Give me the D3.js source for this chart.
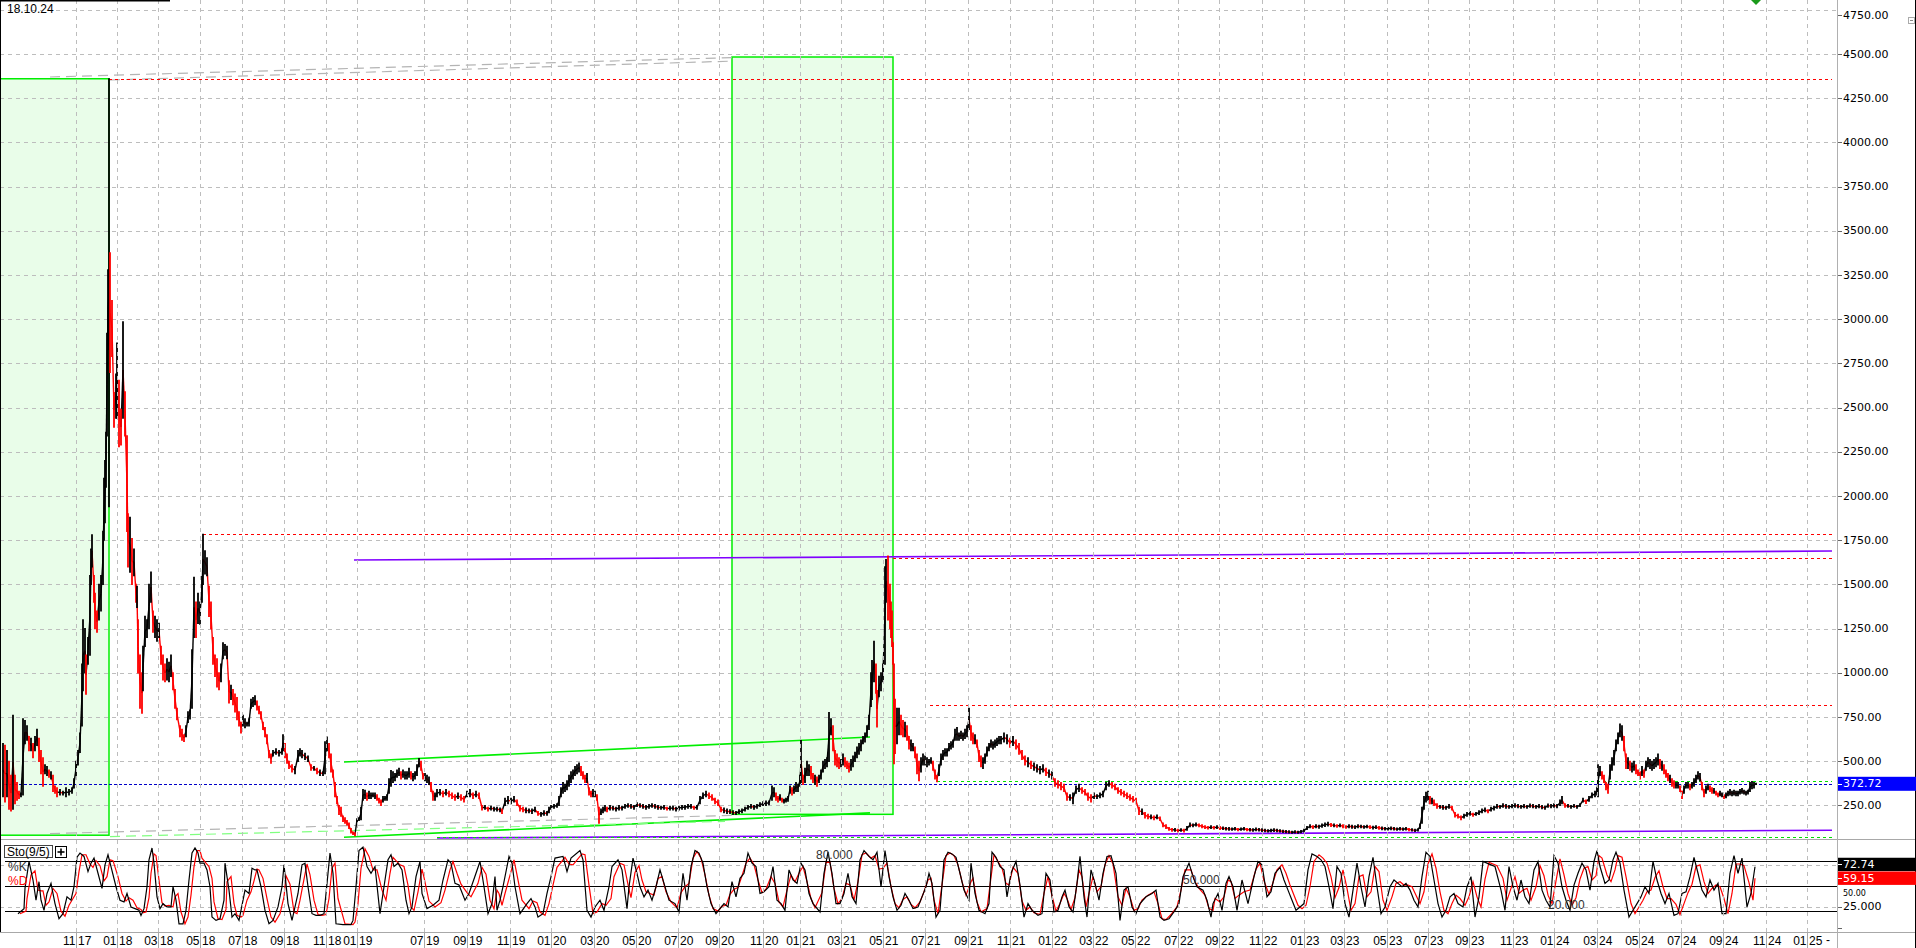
<!DOCTYPE html>
<html><head><meta charset="utf-8">
<script src="https://cdn.jsdelivr.net/npm/d3@7/dist/d3.min.js"></script>
<style>html,body{margin:0;padding:0;background:#fff;overflow:hidden}</style>
</head><body>
<svg id="c" width="1916" height="948"></svg>
<script>
// ---------------- DATA ----------------
const chartDate = "18.10.24";
const priceTicks = [250,500,750,1000,1250,1500,1750,2000,2250,2500,2750,3000,3250,3500,3750,4000,4250,4500,4750];
// month label, year label, bar index of first bar in that month
const monthTicks = [["11","17",76],["01","18",117],["03","18",158],["05","18",200],["07","18",242],["09","18",284],["11","18",326],["01","19",357],["07","19",424],["09","19",467],["11","19",510],["01","20",551],["03","20",594],["05","20",636],["07","20",678],["09","20",719],["11","20",763],["01","21",800],["03","21",841],["05","21",883],["07","21",925],["09","21",968],["11","21",1010],["01","22",1052],["03","22",1093],["05","22",1135],["07","22",1178],["09","22",1219],["11","22",1262],["01","23",1304],["03","23",1344],["05","23",1387],["07","23",1428],["09","23",1469],["11","23",1513],["01","24",1554],["03","24",1597],["05","24",1639],["07","24",1681],["09","24",1723],["11","24",1766],["01","25",1807]];
const lastBar = 1838;
// price bars: [bar index, high, low]
const priceBars = [[3,600,300],[5,590,270],[7,560,300],[9,500,230],[11,420,220],[13,760,230],[15,420,260],[17,380,280],[19,330,290],[21,320,300],[23,740,310],[25,730,600],[27,700,620],[29,640,560],[31,630,560],[33,600,520],[35,640,560],[37,680,590],[39,630,500],[41,560,430],[43,520,360],[45,480,430],[47,470,420],[49,450,410],[51,440,400],[53,420,330],[55,360,320],[57,350,300],[60,340,310],[63,330,310],[66,350,300],[69,340,310],[72,350,320],[74,400,350],[76,500,420],[78,560,480],[80,660,550],[82,1050,700],[83,1300,900],[85,1250,1000],[86,1100,880],[88,1200,1050],[90,1550,1100],[91,1700,1500],[92,1780,1600],[94,1550,1400],[95,1450,1250],[97,1350,1230],[99,1500,1300],[101,1550,1350],[103,1800,1500],[104,2100,1750],[105,2200,1850],[106,2360,2050],[107,2920,2340],[108,3280,2830],[109,4360,1940],[110,3375,2700],[112,3105,2790],[114,2585,2390],[116,2690,2440],[117,2865,2440],[119,2655,2280],[121,2490,2290],[123,2985,2440],[125,2590,2340],[127,2340,1800],[128,1900,1600],[130,1880,1570],[132,1760,1500],[134,1700,1550],[136,1500,1400],[137,1490,1370],[138,1300,1000],[140,1100,800],[142,1000,772],[143,1150,900],[145,1320,1150],[147,1300,1200],[149,1500,1250],[151,1570,1400],[153,1350,1230],[155,1320,1200],[157,1300,1180],[159,1280,1200],[161,1150,1050],[163,1100,960],[165,1050,950],[167,1080,960],[169,1060,950],[171,1100,980],[173,1000,905],[175,905,800],[177,800,735],[180,700,640],[182,680,620],[184,650,613],[186,700,640],[188,780,720],[190,790,740],[192,1130,800],[194,1540,1200],[196,1400,1200],[198,1450,1280],[200,1400,1275],[202,1545,1400],[203,1784,1500],[205,1690,1560],[207,1650,1550],[209,1490,1320],[211,1400,1250],[213,1200,1050],[215,1100,980],[217,1080,920],[219,1000,905],[221,1050,950],[223,1170,1080],[225,1160,1100],[227,1150,1080],[229,955,830],[231,930,850],[233,905,820],[235,880,780],[237,860,735],[239,780,700],[241,720,660],[243,760,700],[245,740,690],[247,720,700],[249,740,700],[251,850,800],[253,860,810],[255,870,820],[257,840,790],[259,810,770],[261,780,740],[263,720,680],[265,690,640],[267,650,600],[269,560,520],[271,540,490],[273,560,530],[276,570,540],[279,560,530],[282,570,540],[283,650,560],[285,600,520],[287,540,490],[289,500,460],[292,480,440],[295,470,430],[298,560,500],[300,570,530],[302,560,520],[305,545,510],[308,530,500],[311,480,450],[314,470,450],[317,460,430],[320,450,420],[323,440,420],[325,610,430],[327,637,560],[329,600,520],[331,540,440],[333,450,410],[335,380,300],[337,300,260],[339,250,200],[341,240,190],[343,190,160],[345,180,150],[347,165,140],[349,150,120],[351,120,95],[353,100,86],[355,95,80],[357,175,160],[359,180,165],[361,240,170],[363,340,280],[365,335,290],[367,320,280],[369,330,290],[371,320,290],[373,320,300],[375,320,290],[377,310,280],[379,290,265],[381,280,250],[383,300,270],[385,300,280],[387,310,280],[389,400,320],[391,447,360],[393,440,380],[395,430,390],[397,450,410],[399,460,420],[401,440,400],[403,450,410],[405,440,400],[407,440,400],[409,460,410],[411,440,400],[413,430,390],[415,440,400],[417,480,420],[419,515,470],[421,500,450],[423,430,400],[425,430,390],[427,420,380],[429,410,370],[431,380,330],[433,330,280],[435,320,280],[437,340,300],[440,340,310],[443,330,300],[446,340,310],[449,330,300],[452,320,290],[455,310,280],[458,320,290],[461,310,280],[464,300,270],[467,330,300],[470,340,300],[473,320,290],[476,330,300],[479,320,290],[482,250,225],[485,250,230],[488,240,220],[491,245,225],[494,240,220],[497,240,220],[500,235,215],[502,230,205],[505,290,250],[508,300,260],[511,290,260],[514,300,270],[517,280,250],[520,250,220],[523,240,215],[526,235,210],[529,230,210],[532,230,205],[535,240,215],[538,215,195],[541,210,190],[544,220,195],[547,215,195],[549,240,210],[551,250,230],[554,255,235],[557,260,240],[559,300,250],[561,350,300],[563,380,320],[565,370,330],[567,390,340],[569,420,360],[571,440,380],[573,450,400],[575,470,420],[577,480,430],[579,490,440],[581,470,420],[583,440,400],[585,420,380],[587,430,380],[589,350,310],[591,330,300],[593,340,300],[595,330,300],[597,310,280],[599,240,150],[601,230,200],[603,240,210],[605,250,220],[607,240,215],[610,250,225],[613,245,225],[616,240,220],[619,250,225],[622,245,225],[625,255,235],[628,260,240],[631,255,235],[634,250,230],[637,265,245],[640,260,240],[643,255,235],[646,250,230],[649,255,235],[652,260,240],[655,255,235],[658,250,230],[661,245,230],[664,250,230],[667,240,225],[670,245,225],[673,245,225],[676,240,220],[679,245,225],[682,250,230],[685,250,230],[688,255,235],[691,255,235],[694,245,230],[697,250,230],[700,300,260],[703,320,290],[706,330,300],[709,320,290],[712,310,280],[715,290,260],[718,280,250],[721,240,215],[724,235,210],[727,230,205],[730,225,205],[733,220,200],[736,215,200],[739,225,205],[742,230,210],[745,240,220],[748,250,230],[751,255,235],[754,250,230],[757,255,235],[760,265,245],[763,270,250],[766,275,250],[769,275,255],[772,360,280],[774,350,300],[776,320,280],[778,300,270],[780,310,280],[782,290,270],[784,285,265],[786,290,270],[788,300,275],[790,360,320],[792,350,310],[794,360,320],[796,380,330],[798,370,330],[800,420,360],[801,617,380],[803,420,370],[805,460,380],[807,500,420],[809,480,420],[811,470,400],[813,430,380],[815,420,370],[817,410,360],[819,420,380],[821,450,400],[823,500,440],[825,510,460],[827,520,470],[829,776,500],[831,740,650],[833,700,560],[835,560,480],[837,540,470],[839,520,460],[841,510,470],[843,540,480],[845,520,470],[847,500,460],[849,490,440],[851,510,450],[853,530,470],[855,550,500],[857,580,520],[859,600,540],[861,620,560],[863,640,600],[865,660,610],[867,700,640],[869,760,680],[871,1000,810],[872,1070,850],[874,1178,950],[876,1050,885],[877,900,695],[879,980,865],[881,1000,900],[883,1050,950],[885,1600,1050],[886,1640,1400],[888,1660,1300],[890,1500,1250],[891,1400,1200],[892,1350,1150],[893,1170,1050],[894,1050,487],[895,850,545],[897,800,600],[899,800,650],[901,760,650],[903,730,640],[905,720,640],[907,700,620],[909,640,570],[911,620,560],[913,600,560],[915,580,520],[917,540,430],[919,500,390],[921,520,440],[923,540,480],[925,530,480],[927,520,470],[929,510,480],[931,520,490],[933,500,450],[935,450,400],[937,420,385],[939,480,420],[941,540,480],[943,560,510],[945,570,530],[947,570,530],[949,600,560],[951,610,570],[953,620,580],[955,680,620],[957,690,620],[959,660,620],[961,670,630],[963,660,620],[965,680,630],[967,700,640],[969,800,680],[971,700,620],[973,660,600],[975,650,600],[977,620,580],[979,560,500],[981,530,470],[983,520,460],[985,540,490],[987,580,530],[989,600,560],[991,620,580],[993,610,570],[995,620,580],[997,630,590],[999,640,600],[1001,640,600],[1004,660,610],[1007,650,600],[1010,630,580],[1013,640,590],[1016,620,570],[1019,600,540],[1022,560,510],[1025,530,480],[1028,520,470],[1031,500,460],[1034,490,450],[1037,480,440],[1040,470,430],[1043,480,440],[1046,460,420],[1049,450,410],[1052,440,400],[1055,400,360],[1058,390,350],[1061,380,340],[1064,370,330],[1067,320,280],[1070,310,280],[1073,320,260],[1076,360,320],[1079,370,330],[1082,350,320],[1085,340,310],[1088,320,280],[1091,310,270],[1094,320,290],[1097,310,290],[1100,320,295],[1103,330,300],[1106,380,340],[1109,390,360],[1112,380,350],[1115,370,340],[1118,350,320],[1121,340,310],[1124,330,300],[1127,320,290],[1130,310,280],[1133,300,270],[1136,290,260],[1139,240,200],[1142,230,200],[1145,210,180],[1148,200,175],[1151,195,175],[1154,190,170],[1157,195,175],[1160,185,165],[1163,150,130],[1166,140,120],[1169,125,110],[1172,120,105],[1175,120,105],[1178,115,100],[1181,118,105],[1184,115,100],[1187,130,110],[1190,150,130],[1193,145,130],[1196,150,135],[1199,145,130],[1202,140,125],[1205,135,120],[1208,130,118],[1211,135,120],[1214,130,118],[1217,135,120],[1220,130,115],[1223,128,115],[1226,125,112],[1229,125,110],[1232,122,110],[1235,125,112],[1238,120,108],[1241,122,110],[1244,125,112],[1247,120,108],[1250,120,106],[1253,118,105],[1256,122,108],[1259,120,106],[1262,118,104],[1265,115,102],[1268,112,100],[1271,115,102],[1274,118,104],[1277,115,102],[1280,112,100],[1283,110,98],[1286,108,96],[1289,106,95],[1292,104,94],[1295,106,95],[1298,104,94],[1301,108,96],[1304,115,100],[1307,130,115],[1310,140,125],[1313,135,120],[1316,140,125],[1319,138,122],[1322,145,128],[1325,150,132],[1328,155,135],[1331,148,132],[1334,145,130],[1337,140,128],[1340,145,130],[1343,140,125],[1346,135,122],[1349,140,125],[1352,138,122],[1355,135,120],[1358,140,125],[1361,138,124],[1364,135,122],[1367,138,124],[1370,135,120],[1373,132,118],[1376,135,120],[1379,130,116],[1382,128,114],[1385,125,112],[1388,125,112],[1391,128,114],[1394,125,112],[1397,122,110],[1400,125,112],[1403,122,110],[1406,125,112],[1409,120,108],[1412,118,106],[1415,115,104],[1418,118,106],[1420,145,120],[1422,240,150],[1424,300,230],[1426,325,270],[1428,330,280],[1430,300,260],[1432,290,260],[1434,280,250],[1437,260,235],[1440,250,235],[1443,250,230],[1446,245,230],[1449,255,235],[1452,245,225],[1455,210,185],[1458,200,180],[1461,190,170],[1464,200,180],[1467,210,190],[1470,215,195],[1473,205,190],[1476,210,195],[1479,220,200],[1482,230,210],[1485,235,215],[1488,225,210],[1491,240,220],[1494,245,225],[1497,255,235],[1500,250,235],[1503,260,240],[1506,255,235],[1509,250,235],[1512,255,238],[1515,260,240],[1518,255,238],[1521,250,235],[1524,255,238],[1527,250,235],[1530,258,240],[1533,255,238],[1536,250,235],[1539,255,238],[1542,250,232],[1545,245,230],[1548,258,240],[1551,255,238],[1554,260,240],[1557,255,238],[1560,280,250],[1562,300,260],[1565,260,240],[1568,255,240],[1571,250,235],[1574,255,240],[1577,250,235],[1580,260,245],[1583,290,270],[1586,280,262],[1589,300,275],[1592,320,295],[1595,330,300],[1597,350,310],[1598,480,300],[1600,470,420],[1602,440,400],[1604,420,380],[1606,380,340],[1608,370,320],[1610,480,400],[1612,520,450],[1614,560,480],[1616,620,560],[1618,660,600],[1620,710,640],[1622,700,620],[1624,640,560],[1626,540,460],[1628,520,460],[1630,500,450],[1632,490,440],[1634,500,450],[1636,480,430],[1638,450,420],[1640,440,400],[1642,470,420],[1644,450,410],[1646,500,450],[1648,520,470],[1650,510,460],[1652,500,450],[1654,510,460],[1656,520,470],[1658,540,480],[1660,510,460],[1662,500,450],[1664,480,430],[1666,450,410],[1668,430,390],[1670,420,380],[1672,400,360],[1674,390,350],[1676,380,350],[1678,380,350],[1680,360,330],[1682,330,290],[1684,360,320],[1686,380,350],[1688,380,350],[1690,370,340],[1692,380,350],[1694,400,360],[1696,420,380],[1698,440,400],[1700,430,390],[1702,380,340],[1704,340,300],[1706,360,320],[1708,370,340],[1710,360,330],[1712,350,320],[1714,345,320],[1716,330,310],[1718,320,300],[1720,330,305],[1722,320,300],[1724,310,290],[1726,320,295],[1728,330,305],[1730,340,310],[1732,330,305],[1734,335,310],[1736,330,305],[1738,330,305],[1740,340,315],[1742,345,320],[1744,335,315],[1746,330,310],[1748,335,315],[1750,380,330],[1752,385,345],[1754,380,350],[1756,375,370]];
const lastClose = 372.72;
// Stochastic (9/5): [bar, %K]
const stochK = [[18,17],[24,23],[25,47],[29,79],[33,57],[36,33],[39,55],[41,33],[44,21],[47,41],[51,53],[55,29],[59,11],[63,17],[67,37],[71,33],[74,49],[77,84],[80,89],[84,85],[88,67],[91,77],[94,83],[98,65],[102,47],[105,75],[108,87],[111,73],[116,49],[120,33],[124,31],[127,41],[131,25],[135,23],[139,21],[141,15],[144,23],[147,49],[149,81],[152,95],[154,77],[157,37],[160,23],[163,29],[167,25],[171,25],[173,49],[176,33],[179,5],[183,5],[186,21],[189,57],[192,89],[195,95],[198,89],[200,77],[204,77],[207,69],[210,49],[212,13],[216,9],[220,11],[224,33],[225,77],[229,45],[232,13],[235,17],[239,9],[241,21],[245,45],[249,41],[252,71],[255,69],[257,69],[261,49],[265,21],[269,5],[273,9],[278,25],[282,49],[284,75],[288,29],[292,9],[295,25],[298,41],[302,75],[305,77],[308,49],[312,17],[316,15],[320,15],[324,17],[327,53],[330,89],[333,65],[336,5],[343,4],[351,4],[353,9],[356,49],[359,92],[363,96],[367,73],[371,65],[375,73],[380,17],[384,49],[388,81],[391,87],[394,73],[398,77],[402,69],[406,33],[409,17],[412,25],[416,61],[420,79],[422,41],[427,23],[433,27],[439,33],[443,57],[448,81],[451,77],[455,53],[459,51],[465,33],[469,41],[476,65],[480,79],[484,49],[488,17],[492,29],[495,61],[497,21],[500,33],[503,49],[509,85],[512,77],[515,49],[520,17],[527,29],[531,35],[535,25],[538,13],[543,17],[547,41],[551,61],[555,83],[563,85],[567,67],[571,83],[580,92],[583,81],[587,21],[591,13],[595,25],[600,33],[604,21],[609,49],[612,73],[618,81],[622,69],[627,23],[629,49],[633,83],[637,65],[640,49],[644,37],[648,45],[652,33],[656,49],[660,69],[664,53],[669,33],[675,29],[679,19],[683,65],[687,33],[691,73],[695,92],[699,89],[703,77],[707,49],[711,29],[716,17],[720,23],[724,29],[728,25],[732,55],[736,37],[740,59],[744,65],[748,89],[752,77],[756,73],[760,41],[764,43],[769,49],[773,73],[777,33],[781,29],[785,21],[789,69],[793,57],[797,53],[801,77],[805,69],[809,41],[813,29],[820,19],[824,65],[828,90],[832,65],[836,29],[840,29],[844,41],[848,65],[852,37],[856,29],[860,81],[864,92],[869,85],[873,81],[877,90],[881,49],[885,92],[889,61],[893,37],[897,21],[901,27],[905,41],[909,33],[913,23],[918,25],[922,37],[926,49],[929,65],[932,53],[936,13],[940,21],[944,81],[948,90],[952,88],[956,84],[960,65],[964,45],[969,33],[971,77],[975,41],[979,21],[985,17],[989,29],[992,90],[996,84],[1000,73],[1004,69],[1007,37],[1011,65],[1016,79],[1020,51],[1024,13],[1028,29],[1032,21],[1038,15],[1042,17],[1046,65],[1050,57],[1054,19],[1058,21],[1062,37],[1065,45],[1069,25],[1073,19],[1077,53],[1080,85],[1084,37],[1087,13],[1091,69],[1095,53],[1099,33],[1103,65],[1107,85],[1111,86],[1116,65],[1120,9],[1124,45],[1128,49],[1132,25],[1136,17],[1140,29],[1146,37],[1152,41],[1156,45],[1160,13],[1164,9],[1169,11],[1175,21],[1179,29],[1183,61],[1189,77],[1193,61],[1197,49],[1203,45],[1207,33],[1211,13],[1213,29],[1218,41],[1222,21],[1226,53],[1229,61],[1233,49],[1237,21],[1242,57],[1248,29],[1254,61],[1258,79],[1262,75],[1267,37],[1271,43],[1275,65],[1280,72],[1284,57],[1288,45],[1292,33],[1296,21],[1300,25],[1304,29],[1308,69],[1312,88],[1317,85],[1321,81],[1325,73],[1329,49],[1333,23],[1337,73],[1341,65],[1345,29],[1349,13],[1353,45],[1357,77],[1361,49],[1365,25],[1369,61],[1373,84],[1377,49],[1381,17],[1385,25],[1390,49],[1394,57],[1398,53],[1402,49],[1406,53],[1410,45],[1414,33],[1418,25],[1422,61],[1426,90],[1430,85],[1434,57],[1438,29],[1442,13],[1446,21],[1450,37],[1454,41],[1458,29],[1463,25],[1467,49],[1471,61],[1475,13],[1479,37],[1483,79],[1487,77],[1491,75],[1495,73],[1501,45],[1505,21],[1509,73],[1513,49],[1517,33],[1521,57],[1525,37],[1529,29],[1534,69],[1538,79],[1542,45],[1546,33],[1550,25],[1554,86],[1558,77],[1562,49],[1566,33],[1570,21],[1574,51],[1578,65],[1582,77],[1586,69],[1590,45],[1594,79],[1597,92],[1600,73],[1605,53],[1609,57],[1613,81],[1616,90],[1620,77],[1624,45],[1629,13],[1633,21],[1637,29],[1641,37],[1645,49],[1649,41],[1653,79],[1657,57],[1661,41],[1665,29],[1669,41],[1674,15],[1678,17],[1682,41],[1686,43],[1690,61],[1694,84],[1698,65],[1702,45],[1706,37],[1710,57],[1714,45],[1718,53],[1722,17],[1726,17],[1730,65],[1734,86],[1738,65],[1742,83],[1747,25],[1751,41],[1755,72.74]];
// Stochastic (9/5): [bar, %D]
const stochD = [[20,17],[26,20],[27,35],[31,63],[35,68],[38,45],[41,44],[43,44],[46,27],[49,31],[53,47],[57,41],[61,20],[65,14],[69,27],[73,35],[76,41],[79,67],[82,87],[86,87],[90,76],[93,72],[96,80],[100,74],[104,56],[107,61],[110,81],[113,80],[118,61],[122,41],[126,32],[129,36],[133,33],[137,24],[141,22],[143,18],[146,19],[149,36],[151,65],[154,88],[156,86],[159,57],[162,30],[165,26],[169,27],[173,25],[175,37],[178,41],[181,19],[185,5],[188,13],[191,39],[194,73],[197,92],[200,92],[202,83],[206,77],[209,73],[212,59],[214,31],[218,11],[222,10],[226,22],[227,55],[231,61],[234,29],[237,15],[241,13],[243,15],[247,33],[251,43],[254,56],[257,70],[259,69],[263,59],[267,35],[271,13],[275,7],[280,17],[284,37],[286,62],[290,52],[294,19],[297,17],[300,33],[304,58],[307,76],[310,63],[314,33],[318,16],[322,15],[326,16],[329,35],[332,71],[335,77],[338,35],[345,5],[353,4],[355,7],[358,29],[361,71],[365,94],[369,85],[373,69],[377,69],[382,45],[386,33],[390,65],[393,84],[396,80],[400,75],[404,73],[408,51],[411,25],[414,21],[418,43],[422,70],[424,60],[429,32],[435,25],[441,30],[445,45],[450,69],[453,79],[457,65],[461,52],[467,42],[471,37],[478,53],[482,72],[486,64],[490,33],[494,23],[497,45],[499,41],[502,27],[505,41],[511,67],[514,81],[517,63],[522,33],[529,23],[533,32],[537,30],[540,19],[545,15],[549,29],[553,51],[557,72],[565,84],[569,76],[573,75],[582,88],[585,87],[589,51],[593,17],[597,19],[602,29],[606,27],[611,35],[614,61],[620,77],[624,75],[629,46],[631,36],[635,66],[639,74],[642,57],[646,43],[650,41],[654,39],[658,59],[662,61],[666,43],[671,31],[677,24],[681,42],[685,49],[689,53],[693,83],[697,91],[701,83],[705,63],[709,39],[713,23],[718,20],[722,26],[726,27],[730,40],[734,46],[738,48],[742,62],[746,77],[750,83],[754,75],[758,57],[762,42],[766,46],[771,61],[775,53],[779,31],[783,25],[787,45],[791,63],[795,55],[799,65],[803,73],[807,55],[811,35],[815,24],[822,42],[826,78],[830,78],[834,47],[838,29],[842,35],[846,53],[850,51],[854,33],[858,55],[862,87],[866,89],[871,83],[875,86],[879,70],[883,71],[887,77],[891,49],[895,29],[899,24],[903,34],[907,37],[911,28],[915,24],[920,31],[924,43],[928,57],[931,59],[934,33],[938,17],[942,51],[946,86],[950,89],[954,86],[958,75],[962,55],[966,39],[971,55],[973,59],[977,31],[981,19],[987,23],[991,60],[994,87],[998,79],[1002,71],[1006,53],[1009,51],[1013,72],[1018,65],[1022,32],[1026,21],[1030,25],[1034,18],[1040,16],[1044,41],[1048,61],[1052,38],[1056,20],[1060,29],[1064,41],[1067,35],[1071,22],[1075,36],[1079,69],[1082,61],[1086,25],[1089,41],[1093,61],[1097,43],[1101,49],[1105,75],[1109,86],[1113,76],[1118,37],[1122,27],[1126,47],[1130,37],[1134,21],[1138,23],[1142,33],[1148,39],[1154,43],[1158,29],[1162,11],[1166,10],[1171,16],[1177,25],[1181,45],[1185,69],[1191,69],[1195,55],[1199,47],[1205,39],[1209,23],[1213,21],[1215,35],[1220,31],[1224,37],[1228,57],[1231,55],[1235,35],[1239,39],[1244,43],[1250,45],[1256,70],[1260,77],[1264,56],[1269,40],[1273,54],[1277,69],[1282,75],[1286,65],[1290,51],[1294,39],[1298,27],[1302,23],[1306,27],[1310,49],[1314,79],[1319,87],[1323,83],[1327,77],[1331,61],[1335,36],[1339,48],[1343,69],[1347,47],[1351,21],[1355,29],[1359,61],[1363,63],[1367,37],[1371,43],[1375,73],[1379,67],[1383,33],[1387,21],[1392,37],[1396,53],[1400,55],[1404,51],[1408,51],[1412,49],[1416,39],[1420,29],[1424,43],[1428,76],[1432,88],[1436,71],[1440,43],[1444,21],[1448,17],[1452,29],[1456,39],[1460,35],[1465,27],[1469,37],[1473,55],[1477,37],[1481,25],[1485,58],[1489,78],[1493,76],[1497,74],[1503,59],[1507,33],[1511,47],[1515,61],[1519,41],[1523,45],[1527,47],[1531,33],[1536,49],[1540,74],[1544,62],[1548,39],[1552,29],[1556,56],[1560,82],[1564,63],[1568,41],[1572,27],[1576,36],[1580,58],[1584,71],[1588,73],[1592,57],[1596,62],[1599,86],[1602,83],[1607,63],[1611,55],[1615,69],[1618,86],[1622,84],[1626,61],[1631,29],[1635,17],[1639,25],[1643,33],[1647,43],[1651,45],[1655,60],[1659,68],[1663,49],[1667,35],[1671,35],[1676,28],[1680,16],[1684,29],[1688,42],[1692,52],[1696,73],[1700,75],[1704,55],[1708,41],[1712,47],[1716,51],[1720,49],[1724,35],[1728,17],[1732,41],[1736,76],[1740,76],[1744,74],[1749,54],[1753,33],[1755,59.15]];
const lastK = 72.74, lastD = 59.15;
const stochLevels = [20, 50, 80];
const stochGrid = [25, 75];
const stochLevelLabels = [["80.000", 80, 816], ["50.000", 50, 1183], ["20.000", 20, 1548]];
// annotation drawings (bar, price)
const greenBoxes = [[0, 109, 82, 4360], [732, 893, 200, 4483]];
const hLevels = [ // [fromBar, toBar, price, color, dash]
  [109, 1832, 4360, "#ff0000", "3,3"],
  [203, 1832, 1785, "#ff0000", "3,3"],
  [893, 1832, 1650, "#ff0000", "3,3"],
  [930, 1832, 818, "#ff0000", "3,3"],
  [937, 1832, 388, "#00dd00", "3,3"],
  [437, 1832, 74, "#00dd00", "3,3"],
  [4, 1832, 372.72, "#0000c8", "3,2"]
];
const trendLines = [ // [bar1, price1, bar2, price2, color, width, dash]
  [354, 1638, 1832, 1689, "#8000ff", 1.6, null],
  [437, 66, 1832, 110, "#8000ff", 1.6, null],
  [344, 496, 870, 637, "#00ee00", 1.6, null],
  [344, 70, 870, 208, "#00ee00", 1.6, null],
  [50, 91, 732, 194, "#b4b4b4", 1.2, "10,6"],
  [110, 74, 725, 160, "#80ff80", 1.2, "10,6"],
  [50, 4370, 733, 4480, "#b4b4b4", 1.2, "10,6"],
  [110, 4353, 733, 4460, "#b4b4b4", 1.2, "10,6"]
];

// ---------------- LAYOUT ----------------
const svg = d3.select("#c");
const PR = 1838, MAIN_B = 839, STO_T = 840, STO_B = 932;
const x = d3.scaleLinear().domain([0, lastBar]).range([0, PR]);
const y = d3.scaleLinear().domain([0, 4750]).range([849.7, 9.8]);
const ys = d3.scaleLinear().domain([0, 100]).range([928, 843.8]);
const AX = "Liberation Sans, Arial, sans-serif";
const AXR = "DejaVu Sans, Verdana, sans-serif";

svg.append("rect").attr("width",1916).attr("height",948).attr("fill","#fff");
const defs = svg.append("defs");
defs.append("clipPath").attr("id","cm").append("rect").attr("x",0).attr("y",0).attr("width",PR).attr("height",MAIN_B);
defs.append("clipPath").attr("id","cs").append("rect").attr("x",0).attr("y",STO_T).attr("width",PR).attr("height",STO_B-STO_T);

const gm = svg.append("g").attr("clip-path","url(#cm)");
const gs = svg.append("g").attr("clip-path","url(#cs)");

// green box fills
gm.selectAll("rect.gbf").data(greenBoxes).join("rect")
  .attr("x", d=>x(d[0])).attr("y", d=>y(d[3])).attr("width", d=>x(d[1])-x(d[0])).attr("height", d=>y(d[2])-y(d[3]))
  .attr("fill","#e9fde9");

// horizontal grid main
gm.selectAll("line.hg").data(priceTicks).join("line")
  .attr("x1",0).attr("x2",PR).attr("y1",d=>Math.round(y(d))+0.5).attr("y2",d=>Math.round(y(d))+0.5)
  .attr("stroke","#bdbdbd").attr("stroke-dasharray","4,4");
// vertical grid
svg.selectAll("line.vg").data(monthTicks).join("line")
  .attr("x1",d=>Math.round(x(d[2]))+0.5).attr("x2",d=>Math.round(x(d[2]))+0.5).attr("y1",0).attr("y2",STO_B)
  .attr("stroke","#bdbdbd").attr("stroke-dasharray","4,4");
// stoch grid
gs.selectAll("line.sg").data(stochGrid).join("line")
  .attr("x1",0).attr("x2",PR).attr("y1",d=>Math.round(ys(d))+0.5).attr("y2",d=>Math.round(ys(d))+0.5)
  .attr("stroke","#bdbdbd").attr("stroke-dasharray","4,4");
gs.selectAll("line.sl").data(stochLevels).join("line")
  .attr("x1",5).attr("x2",PR).attr("y1",d=>Math.round(ys(d))+0.5).attr("y2",d=>Math.round(ys(d))+0.5)
  .attr("stroke","#000").attr("stroke-width",1.2);

// green box strokes
gm.selectAll("rect.gbs").data(greenBoxes).join("rect")
  .attr("x", d=>x(d[0])).attr("y", d=>y(d[3])).attr("width", d=>x(d[1])-x(d[0])).attr("height", d=>y(d[2])-y(d[3]))
  .attr("fill","none").attr("stroke","#00ee00").attr("stroke-width",1.5);

// trend lines
gm.selectAll("line.tl").data(trendLines).join("line")
  .attr("x1",d=>x(d[0])).attr("y1",d=>y(d[1])).attr("x2",d=>x(d[2])).attr("y2",d=>y(d[3]))
  .attr("stroke",d=>d[4]).attr("stroke-width",d=>d[5]).attr("stroke-dasharray",d=>d[6]);
// horizontal levels
gm.selectAll("line.hl").data(hLevels).join("line")
  .attr("x1",d=>x(d[0])).attr("x2",d=>x(d[1])).attr("y1",d=>Math.round(y(d[2]))+0.5).attr("y2",d=>Math.round(y(d[2]))+0.5)
  .attr("stroke",d=>d[3]).attr("stroke-width",1.2).attr("stroke-dasharray",d=>d[4]);

// price bars: close-to-close connectors coloured by direction; high-low bars black,
// red where the bar closes clearly lower than the previous one
const segG = gm.append("g"), barG = gm.append("g");
let prevMid = null, prevBar = null;
priceBars.forEach((b, i) => {
  const mid = i === priceBars.length-1 ? lastClose : (b[1]+b[2])/2;
  const down = prevMid !== null && mid < prevMid;
  const bigDown = down && (prevMid - mid) / prevMid > 0.025;
  if (prevMid !== null) {
    segG.append("line").attr("x1",x(prevBar)).attr("y1",y(prevMid)).attr("x2",x(b[0])).attr("y2",y(mid))
      .attr("stroke", down ? "#ff0000" : "#000").attr("stroke-width",1.4);
  }
  barG.append("line").attr("x1",x(b[0])).attr("x2",x(b[0])).attr("y1",y(b[1])-0.6).attr("y2",y(b[2])+0.6)
    .attr("stroke", bigDown ? "#ff0000" : "#000").attr("stroke-width",1.8);
  prevMid = mid; prevBar = b[0];
});

// stochastic lines
const sline = d3.line().x(d=>x(d[0])).y(d=>ys(d[1]));
gs.append("path").datum(stochD).attr("d",sline).attr("fill","none").attr("stroke","#ff0000").attr("stroke-width",1.2);
gs.append("path").datum(stochK).attr("d",sline).attr("fill","none").attr("stroke","#000").attr("stroke-width",1.2);

// level labels in stoch
gs.selectAll("text.ll").data(stochLevelLabels).join("text")
  .attr("x",d=>x(d[2])).attr("y",d=>ys(d[1])-6).attr("dominant-baseline","central")
  .attr("font-family",AX).attr("font-size",12).attr("fill","#333").text(d=>d[0]);

// frame lines
svg.append("line").attr("x1",0).attr("x2",1916).attr("y1",839.5).attr("y2",839.5).attr("stroke","#a8a8a8");
svg.append("line").attr("x1",0).attr("x2",1916).attr("y1",932.5).attr("y2",932.5).attr("stroke","#a8a8a8");
svg.append("line").attr("x1",1837.5).attr("x2",1837.5).attr("y1",0).attr("y2",948).attr("stroke","#b0b0b0");
svg.append("line").attr("x1",0.5).attr("x2",0.5).attr("y1",0).attr("y2",932).attr("stroke","#000");
svg.append("line").attr("x1",0).attr("x2",170).attr("y1",0.5).attr("y2",0.5).attr("stroke","#000").attr("stroke-width",2);
svg.append("line").attr("x1",1915.5).attr("x2",1915.5).attr("y1",0).attr("y2",948).attr("stroke","#000");

// title date
svg.append("text").attr("x",7).attr("y",13).attr("font-family",AX).attr("font-size",12).attr("fill","#000").text(chartDate);

// top marker
svg.append("path").attr("d",`M${x(1751)},0 L${x(1761)},0 L${x(1756)},5 Z`).attr("fill","#1a9a1a");
svg.append("rect").attr("x",1908.5).attr("y",17.5).attr("width",6).attr("height",6).attr("fill","#fff").attr("stroke","#aaa");
svg.append("line").attr("x1",1910).attr("x2",1913).attr("y1",20.5).attr("y2",20.5).attr("stroke","#888");

// right axis main
const ra = svg.append("g");
priceTicks.forEach(v => {
  const yy = Math.max(y(v), 15);
  ra.append("line").attr("x1",1838).attr("x2",1842).attr("y1",Math.round(yy)+0.5).attr("y2",Math.round(yy)+0.5).attr("stroke","#666");
  ra.append("text").attr("x",1843).attr("y",yy).attr("dominant-baseline","central")
    .attr("font-family",AXR).attr("font-size",11).attr("fill","#000").text(d3.format(".2f")(v));
});
// last price box
const yc = y(lastClose);
ra.append("rect").attr("x",1838).attr("y",yc-7).attr("width",78).attr("height",14).attr("fill","#0000ff");
ra.append("line").attr("x1",1838).attr("x2",1842).attr("y1",Math.round(yc)+0.5).attr("y2",Math.round(yc)+0.5).attr("stroke","#fff");
ra.append("text").attr("x",1843).attr("y",yc).attr("dominant-baseline","central")
  .attr("font-family",AXR).attr("font-size",11).attr("fill","#fff").text(lastClose.toFixed(2));

// right axis stoch
ra.append("line").attr("x1",1838).attr("x2",1842).attr("y1",Math.round(ys(25))+0.5).attr("y2",Math.round(ys(25))+0.5).attr("stroke","#666");
ra.append("text").attr("x",1843).attr("y",ys(25)).attr("dominant-baseline","central")
  .attr("font-family",AXR).attr("font-size",11).attr("fill","#000").text("25.000");
// "50.00" label is mostly covered by the %D value box; only its lower part peeks out below it
ra.append("text").attr("x",1843).attr("y",ys(50)+7.5).attr("dominant-baseline","central")
  .attr("font-family",AXR).attr("font-size",8).attr("fill","#000").text("50.00");
ra.append("line").attr("x1",1838).attr("x2",1842).attr("y1",928.5).attr("y2",928.5).attr("stroke","#666");
const yk = ys(lastK) - 2.3, yd = ys(lastD);
ra.append("rect").attr("x",1838).attr("y",yk-6.7).attr("width",78).attr("height",13.4).attr("fill","#000");
ra.append("text").attr("x",1843).attr("y",yk).attr("dominant-baseline","central")
  .attr("font-family",AXR).attr("font-size",11).attr("fill","#fff").text(lastK.toFixed(2));
ra.append("line").attr("x1",1838).attr("x2",1842).attr("y1",Math.round(yk)+0.5).attr("y2",Math.round(yk)+0.5).attr("stroke","#fff");
ra.append("rect").attr("x",1838).attr("y",yd-6.7).attr("width",78).attr("height",13.4).attr("fill","#ff0000");
ra.append("text").attr("x",1843).attr("y",yd).attr("dominant-baseline","central")
  .attr("font-family",AXR).attr("font-size",11).attr("fill","#fff").text(lastD.toFixed(2));
ra.append("line").attr("x1",1838).attr("x2",1842).attr("y1",Math.round(yd)+0.5).attr("y2",Math.round(yd)+0.5).attr("stroke","#fff");

// stoch legend
svg.append("rect").attr("x",4.5).attr("y",845.5).attr("width",48).attr("height",12).attr("fill","#fff").attr("stroke","#444");
svg.append("text").attr("x",7).attr("y",852).attr("dominant-baseline","central").attr("font-family",AX).attr("font-size",12).attr("fill","#000").text("Sto(9/5)");
svg.append("rect").attr("x",55.5).attr("y",846.5).attr("width",11).attr("height",11).attr("fill","#fff").attr("stroke","#000");
svg.append("line").attr("x1",57.5).attr("x2",64.5).attr("y1",852).attr("y2",852).attr("stroke","#000").attr("stroke-width",1.6);
svg.append("line").attr("x1",61).attr("x2",61).attr("y1",848.5).attr("y2",855.5).attr("stroke","#000").attr("stroke-width",1.6);
svg.append("text").attr("x",8).attr("y",867).attr("dominant-baseline","central").attr("font-family",AX).attr("font-size",12).attr("fill","#333").text("%K");
svg.append("text").attr("x",8).attr("y",881).attr("dominant-baseline","central").attr("font-family",AX).attr("font-size",12).attr("fill","#ff0000").text("%D");

// x axis labels
const xa = svg.append("g");
monthTicks.forEach(t => {
  const xx = Math.round(x(t[2]))+0.5;
  xa.append("line").attr("x1",xx).attr("x2",xx).attr("y1",933).attr("y2",948).attr("stroke","#a8a8a8");
  xa.append("text").attr("x",xx-1).attr("y",941).attr("text-anchor","end").attr("dominant-baseline","central")
    .attr("font-family",AX).attr("font-size",12).attr("fill","#000").text(t[0]);
  xa.append("text").attr("x",xx+1.5).attr("y",941).attr("text-anchor","start").attr("dominant-baseline","central")
    .attr("font-family",AX).attr("font-size",12).attr("fill","#000").text(t[1]);
});
xa.append("text").attr("x",1828).attr("y",940).attr("text-anchor","middle").attr("dominant-baseline","central")
  .attr("font-family",AX).attr("font-size",12).attr("fill","#000").text("-");
</script>
</body></html>
